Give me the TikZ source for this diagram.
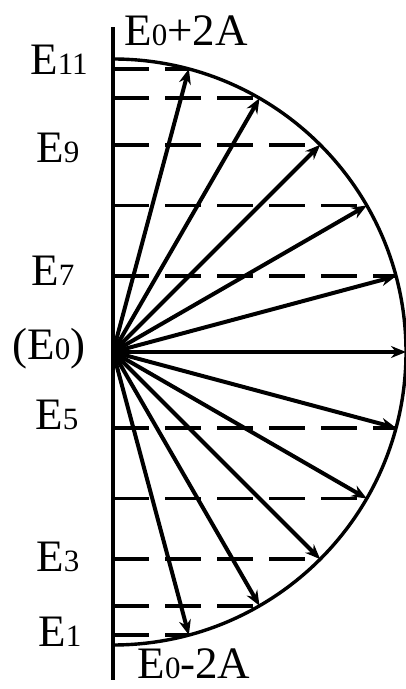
\documentclass[tikz,border=0pt]{standalone}
\usepackage{fontspec}
\setmainfont{Liberation Serif}
\usetikzlibrary{calc,arrows.meta}

\newcommand{\lvl}[1]{{\fontsize{31}{31}\selectfont #1}}

\begin{document}
\begin{tikzpicture}[x=1pt,y=1pt,line width=3.4pt,
  lbl/.style={font=\fontsize{45}{47}\selectfont,inner sep=0pt,anchor=base},
  vec/.style={line width=4pt,-{Stealth[length=15pt,width=12pt]}},
  level/.style={dash pattern=on 36pt off 16pt,line width=3.6pt}]
  \useasboundingbox (0,0) rectangle (406,689);
  \coordinate (O) at (113,337);
  \coordinate (Top) at (113,662);
  \coordinate (Bot) at (113,9);
  \draw (Bot)--(Top);
  % half circle
  \draw ($(O)+(0,293)$) arc[start angle=90,end angle=-90,radius=293pt];
  \foreach \a in {75,60,45,30,15,-15,-30,-45,-60,-75}{
    \coordinate (T) at ($(O)+(\a:293)$);
    \draw[level] (T -| O) -- (T);
  }
  \foreach \a in {75,60,...,-75}
    \draw[vec] (O) -- ($(O)+(\a:293)$);
  \node[lbl] (e11) at (59,614) {E\lvl{11}};
  \node[lbl] (e9) at (58,526) {E\lvl{9}};
  \node[lbl] (e7) at (53,403) {E\lvl{7}};
  \node[lbl] (e0) at (49,329) {(E\lvl{0})};
  \node[lbl] (e5) at (57,259) {E\lvl{5}};
  \node[lbl] (e3) at (58,117) {E\lvl{3}};
  \node[lbl] (e1) at (60,42) {E\lvl{1}};
  \node[lbl] (max) at (186,643) {E\lvl{0}+2A};
  \node[lbl] (min) at (194,10) {E\lvl{0}-2A};
\end{tikzpicture}
\end{document}
